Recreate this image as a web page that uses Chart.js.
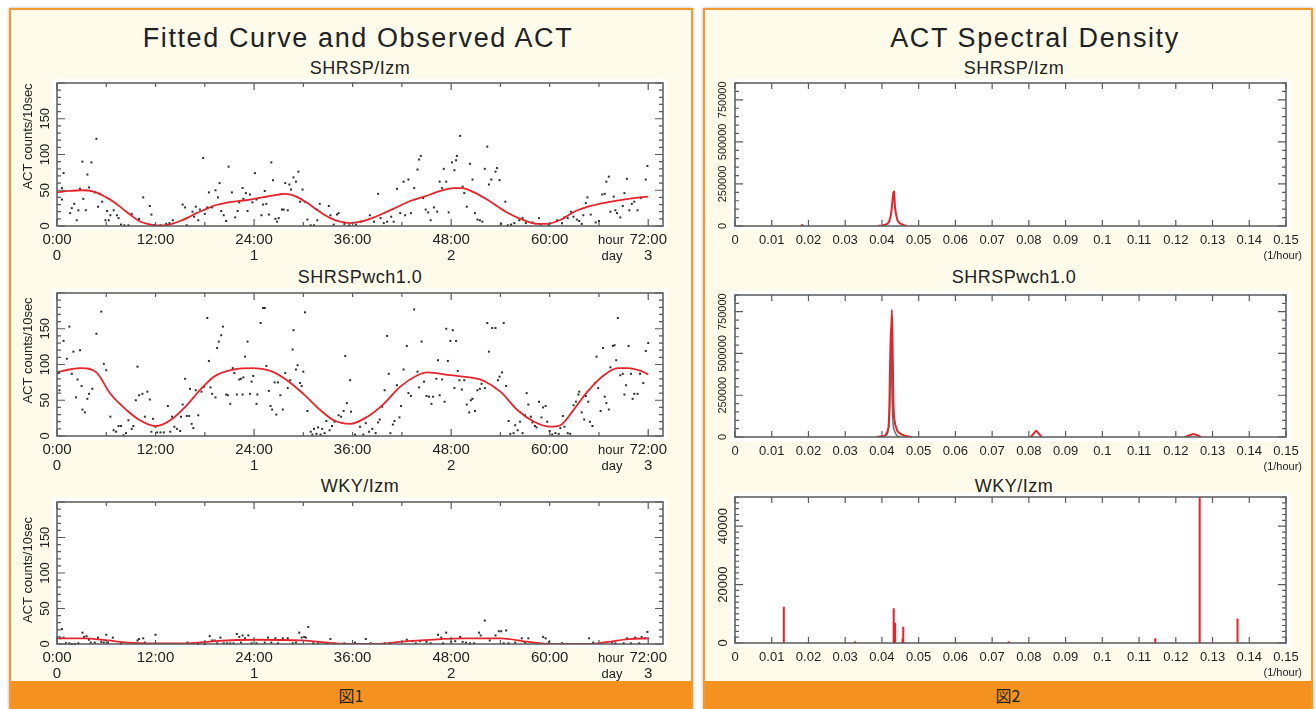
<!DOCTYPE html>
<html>
<head>
<meta charset="utf-8">
<script src="https://cdn.jsdelivr.net/npm/chart.js@4.4.1/dist/chart.umd.min.js"></script>
<style>
body{margin:0;width:1316px;height:709px;overflow:hidden;position:relative;background:#fff;font-family:'Liberation Sans',Arial,sans-serif;color:#222}
.panel{position:absolute;top:8px;height:703px;box-sizing:border-box;border:2px solid #f39a2c;background:#fffbea;box-shadow:0 0 3px rgba(0,0,0,.3)}
.foot{position:absolute;left:0;right:0;top:671px;height:30px;background:#f5921f;text-align:center;font:16px 'Noto Sans CJK JP',sans-serif;line-height:28px;color:#222}
.t{position:absolute;width:600px;text-align:center;white-space:nowrap}
.big{font-size:27px;letter-spacing:1.6px;line-height:30px}
.sub{font-size:18px;letter-spacing:0.5px;line-height:20px}
canvas{position:absolute}
</style>
</head>
<body>
<div class="panel" style="left:9px;width:684px"><div class="foot">図1</div></div>
<div class="panel" style="left:703px;width:610px"><div class="foot">図2</div></div>

<div class="t big" style="left:58px;top:23px">Fitted Curve and Observed ACT</div>
<div class="t sub" style="left:60px;top:58px">SHRSP/Izm</div>
<div class="t sub" style="left:60px;top:267px">SHRSPwch1.0</div>
<div class="t sub" style="left:60px;top:476px">WKY/Izm</div>
<div class="t big" style="left:735px;top:23px">ACT Spectral Density</div>
<div class="t sub" style="left:714px;top:58px">SHRSP/Izm</div>
<div class="t sub" style="left:714px;top:267px">SHRSPwch1.0</div>
<div class="t sub" style="left:714px;top:476px">WKY/Izm</div>

<canvas id="l1"></canvas>
<canvas id="l2"></canvas>
<canvas id="l3"></canvas>
<canvas id="r1"></canvas>
<canvas id="r2"></canvas>
<canvas id="r3"></canvas>

<script>
// axis labels
const hourTicks = [0, 12, 24, 36, 48, 60, 72];
const hourLabels = ['0:00', '12:00', '24:00', '36:00', '48:00', '60:00', '72:00'];
const dayTicks = [0, 24, 48, 72];
const dayLabels = ['0', '1', '2', '3'];
const countTicks = [0, 50, 100, 150];
const freqTicks = [0, 0.01, 0.02, 0.03, 0.04, 0.05, 0.06, 0.07, 0.08, 0.09, 0.1, 0.11, 0.12, 0.13, 0.14, 0.15];
const freqLabels = ['0', '0.01', '0.02', '0.03', '0.04', '0.05', '0.06', '0.07', '0.08', '0.09', '0.1', '0.11', '0.12', '0.13', '0.14', '0.15'];
const powerTicks = [0, 250000, 500000, 750000];
const wkyPowerTicks = [0, 20000, 40000];

// SHRSP/Izm observed ACT
const obs1Hours = [0.6,0.6,0.8,1.6,1.8,2.1,2.4,2.6,2.8,3.1, 3.2,3.5,3.7,3.9,4.2,4.6,4.8,5.0,5.2,5.5,
  5.9,6.1,6.3,6.5,6.9,7.3,7.5,7.8,8.2,8.7, 9.1,10.0,10.5,11.3,11.5,11.8,12.6,13.3,13.7,14.1,
  15.3,15.6,15.8,16.5,16.7,16.9,17.2,17.4,17.8,18.0, 18.3,18.5,18.9,19.3,19.6,19.8,20.0,20.3,20.6,20.9,
  21.3,21.7,22.0,22.2,22.6,22.7,23.0,23.2,23.5,23.8, 24.1,24.3,24.6,24.9,25.1,25.3,25.5,25.8,26.1,26.3,
  26.6,26.8,27.0,27.4,27.6,27.8,28.1,28.3,28.5,28.8, 29.1,29.4,29.6,29.9,30.2,30.5,30.9,31.3,31.6,31.7,
  32.0,33.1,33.3,33.7,34.1,34.3,35.0,35.6,36.4,37.0, 38.1,38.6,39.1,39.4,39.8,40.2,40.7,41.0,41.4,41.8,
  42.2,42.4,42.8,43.1,43.5,43.9,44.1,44.3,44.6,44.9, 45.2,45.5,45.9,46.3,46.6,46.9,47.1,47.4,47.7,48.1,
  48.4,48.6,48.7,49.1,49.4,49.6,49.9,50.3,50.6,50.9, 51.2,51.5,51.8,52.1,52.4,52.6,52.9,53.4,53.6,53.9,
  54.1,54.6,54.9,55.3,55.7,56.3,56.7,57.1,57.9,58.7, 58.9,59.9,60.9,61.5,61.8,62.2,62.6,62.9,63.3,63.6,
  63.9,64.1,64.4,64.6,65.0,65.6,66.0,66.4,66.7,66.9, 67.2,67.4,67.8,68.0,68.2,68.6,68.9,69.1,69.4,69.7,
  70.0,70.3,70.7,71.1,71.7,71.9];
const obs1Counts = [53,37,74,18,25,31,8,22,52,90, 38,22,72,54,89,47,122,27,45,34,
  8,21,8,15,22,15,11,2,1,1, 17,10,40,28,16,1,1,3,4,8,
  30,26,1,20,13,27,8,23,95,17, 26,47,26,50,40,60,21,15,7,83,
  47,12,21,33,53,38,46,21,44,33, 74,37,39,15,30,49,31,16,89,64,
  10,6,11,23,23,60,22,58,51,68, 62,76,34,51,34,9,1,1,23,8,
  31,28,15,2,16,18,3,1,2,6, 15,6,45,11,4,6,13,6,52,18,
  62,15,65,18,53,79,93,98,39,23, 19,8,26,20,62,53,80,62,19,89,
  78,92,98,126,55,46,27,87,65,18, 9,8,6,80,111,58,65,76,81,64,
  3,34,1,2,4,8,11,4,5,11, 2,1,8,4,12,11,20,13,9,7,
  3,15,32,40,16,5,7,44,45,62, 69,20,41,22,18,12,28,46,66,22,
  31,34,22,39,65,84];
const fit1Hours = [0,1.5,3,4.5,6,7,8,9,10,11,12,13,14,15,16,17,18,19,20,21.5,23,24,25,26,27,27.5,28.5,29.5,30.5,31.5,
  32.5,33.5,34.5,35.7,37,38.6,40,41.5,43,44.7,46.7,48.3,49.3,50.8,52.8,54.8,56.9,58.5,59.7,61.4,63,65,67,69,71,72];
const fit1Counts = [47,49,50,48,40,33,24,15,7,3,1,1,3,7,12,18,23,28,31,34,36,38,40,42,44,45,44,39,32,24,
  16,10,6,4,6,12,19,27,35,41,49,53,53,47,34,19,8,3,3,9,20,28,33,37,40,41];

// SHRSPwch1.0 observed ACT
const obs2Hours = [0.2,0.3,0.8,1.2,1.5,1.8,2.0,2.3,2.5,2.8, 3.0,3.1,3.4,3.7,3.9,4.3,4.8,5.4,5.7,6.0,
  6.5,6.9,7.2,7.5,7.8,8.1,8.4,8.7,9.1, 9.3,9.6,9.8,10.0,10.4,10.7,11.0,11.3,11.5,11.7,
  12.0,12.2,12.6,13.0,13.5,13.8,14.0,14.3,14.6,15.0, 15.1,15.3,15.6,15.8,16.1,16.2,16.4,16.6,16.9,17.2,
  17.6,17.9,18.3,18.5,18.7,18.9,19.3,19.5,19.7,20.0, 20.2,20.6,20.8,21.1,21.4,21.6,21.9,22.2,22.4,22.6,
  22.7,22.9,23.2,23.5,23.7,23.9,24.3,24.4,24.8,25.1, 25.3,25.5,25.8,26.0,26.2,26.5,26.7,26.9,27.2,27.5,
  27.8,28.1,28.4,28.7,28.8,29.1,29.3,29.6,29.8,30.0, 30.2,30.5,30.9,31.1,31.3,31.6,31.8,32.1,32.3,32.6,
  32.8,33.2,33.5,33.8,34.3,34.6,34.9,35.1,35.3,
  35.7,35.8,36.3,36.9,37.3,37.6,38.0,38.4,38.8,39.1, 39.3,39.6,39.9,40.2,40.4,40.6,40.9,41.1,41.4,41.7,
  41.9,42.2,42.6,42.8,43.1,43.5,43.9,44.1,44.4,44.7, 45.0,45.3,45.6,45.8,46.2,46.4,46.6,46.9,47.2,47.4,
  47.6,47.9,48.2,48.4,48.6,48.8,49.0,49.3,49.6,49.9, 50.2,50.4,50.6,50.9,51.2,51.5,51.7,52.1,52.4,52.6,
  53.0,53.4,53.7,53.9,54.2,54.4,54.7,55.0,55.2,55.6, 55.8,56.1,56.4,56.7,57.0,57.2,57.4,57.7,57.9,58.2,
  58.4,58.7,59.0,59.2,59.5,59.7,60.0,60.3,60.7,61.1, 61.3,61.6,61.8,62.2,62.5,62.9,63.2,63.5,63.6,63.9,
  64.2,64.4,64.7,64.9,65.2,65.5,65.7,65.9,66.2,66.5, 66.7,66.9,67.2,67.4,67.7,67.9,68.1,68.3,68.6,68.9,
  69.1,69.3,69.6,69.9,70.1,70.3,70.7,71.0,71.4,71.7,72.0];
const obs2Counts = [88,64,133,108,153,87,118,54,79,120, 70,37,33,52,59,66,143,174,101,92,
  27,8,6,14,14,1,4,22,10, 14,50,97,57,59,27,62,51,6,24,
  13,5,5,5,42,6,27,13,10,7, 27,44,80,28,28,66,17,11,64,29,
  62,69,165,105,68,59,54,123,132,141, 153,58,57,45,95,88,58,79,80,58,
  82,111,132,59,76,84,45,58,158,179, 179,98,63,42,37,75,30,75,57,37,
  88,67,78,121,148,93,99,74,70,90, 173,35,6,2,10,3,12,2,10,4,
  21,8,14,20,29,27,35,112,46,
  78,34,2,13,2,18,6,10,4,19, 23,41,64,140,87,4,16,21,71,26,
  42,93,126,60,56,177,90,68,132,76, 56,55,45,55,80,106,57,79,48,150,
  105,133,148,67,133,91,78,65,78,44, 33,50,52,35,64,66,73,67,158,118,
  151,151,78,83,89,158,70,21,3,4, 15,8,20,4,29,60,44,27,19,14,
  12,48,26,40,42,20,7,2,4,3, 11,28,13,4,3,43,48,58,62,33,
  23,56,48,20,14,74,111,67,35,123, 55,46,37,96,126,127,106,165,85,87,
  58,71,126,87,52,59,59,87,74,119,130];
const fit2Hours = [0,1.5,3,4.8,6.5,8.5,10.1,12,13.8,15.8,17.4,19.1,21.5,23.9,26,28,30,32.1,33.7,35.7,
  37.8,39.8,41.8,43.9,45.1,47.9,50.8,52,54,56.1,58.1,60.1,61.3,63,64.6,66.6,68.3,69.5,71.1,72];
const fit2Counts = [89,93,95,89,59,36,22,14,22,43,64,83,93,95,91,78,59,36,22,17,
  27,45,69,85,89,85,81,77,62,36,20,13,15,38,62,85,95,95,91,86];

// WKY/Izm observed ACT
const obs3Hours = [0.4,0.6,0.8,1.1,1.5,1.8,2.2,2.6,3.1,3.3, 3.6,3.9,4.1,4.6,5.0,5.4,5.7,6.0,6.2,6.8,
  7.8,9.8,10.0,10.5,10.7,12.0,15.9,17.2,18.0,18.6, 18.9,19.2,19.5,19.9,20.3,20.7,21.1,21.5,21.9,22.2,
  22.4,22.6,22.9,23.3,23.7,24.3,25.3,25.7,26.1,26.6, 26.9,27.5,28.1,28.7,29.1,29.5,29.8,30.1,30.3,30.6,
  31.2,31.8,32.8,33.3,33.8,35.0, 36.3,37.6,38.2,39.9,40.6,42.6,43.3,43.7,44.2,45.0,
  45.5,46.4,46.8,47.0,47.4,48.0,48.5,49.1,49.4,49.8, 50.3,50.8,51.4,51.6,52.1,52.7,53.4,53.8,54.1,54.4,
  54.7,55.0,55.8,56.6,57.0,57.4,59.2,59.5,59.9,61.5, 64.8,65.3,67.6,68.0,69.0,69.4,69.9,70.4,70.9,71.2,71.6,71.9];
const obs3Counts = [8,21,9,1,1,0,0,1,16,10, 11,6,2,2,9,3,2,13,2,9,
  1,5,7,8,2,13,2,0,0,11, 5,5,1,9,1,1,1,1,14,10,
  2,12,8,12,1,1,2,9,2,8, 1,8,8,1,2,16,9,10,9,24,
  1,1,1,7,1,1, 2,7,1,1,1,6,4,1,4,3,
  1,13,9,1,16,3,4,10,3,2, 1,1,16,12,33,5,12,18,18,1,
  19,1,2,8,2,8,10,8,3,1, 8,2,2,1,1,8,1,9,1,10,8,17];
const fit3Hours = [0,3.3,6.2,8.6,11.9,15.9,19.2,24.1,29.8,33.8,36,38.7,42.7,46.8,49.3,54,57.4,60.2,65.1,67.1,69.6,72];
const fit3Counts = [8,8,5,2,1,1,4,6,5,1,0,0,4,7,8,8,3,0,0,3,7,8];

// spectral density, SHRSP/Izm (null = gap)
const spec1Freq = [0.0180,0.0183,0.0186,0.03,0.0390,0.0400,0.0410,0.0416,0.0421,0.0425,0.0431,0.0433,0.0436,0.0442,0.0448,0.0455,0.0462,0.0468];
const spec1Power = [0,6000,0,null,0,3000,8000,16000,35000,75000,194000,205000,105000,36000,18000,10000,4000,0];

// spectral density, SHRSPwch1.0
const spec2Freq = [0.0386,0.0400,0.0410,0.0418,0.0422,0.0427,0.0430,0.0433,0.0442,0.0456,0.0468,0.0481,0.06,
  0.0805,0.0815,0.0820,0.0825,0.0835,0.1,0.1225,0.1240,0.1248,0.1256,0.1270];
const spec2Power = [0,4000,12000,60000,400000,762000,400000,120000,36000,12000,4000,0,null,
  0,25000,38000,25000,0,null,0,12000,18000,12000,0];
const spec2RawFreq = [0.0400,0.0415,0.0421,0.0424,0.0427,0.0431,0.0440,0.0450];
const spec2RawPower = [0,20000,150000,640000,300000,60000,10000,0];

// spectral density, WKY/Izm (single lines)
const spec3Freq = [0.0133,0.0327,0.0432,0.0436,0.0456,0.0458,0.0745,0.1144,0.1265,0.1368];
const spec3Power = [12400,600,11900,6900,1500,5600,600,1600,52000,8400];

const RED = '#e3242b';

function pts(xs, ys) {
  return xs.map((x, i) => ({x: x, y: ys[i]}));
}
function sticks(xs, ys) {
  return xs.flatMap((x, i) => [{x: x, y: 0}, {x: x, y: ys[i]}, {x: x, y: null}]);
}

const framePlugin = {
  id: 'frame',
  beforeDatasetsDraw(chart) {
    const a = chart.chartArea, c = chart.ctx;
    c.save();
    c.fillStyle = '#fff';
    c.fillRect(a.left - 5, a.top - 4, a.right - a.left + 10, a.bottom - a.top + 8);
    c.restore();
  },
  afterDatasetsDraw(chart, args, o) {
    const a = chart.chartArea, c = chart.ctx;
    const xs = chart.scales.x, ys = chart.scales.y;
    c.save();
    c.strokeStyle = '#5a5a5a';
    c.lineWidth = 1.5;
    c.strokeRect(a.left, a.top, a.right - a.left, a.bottom - a.top);
    c.lineWidth = 1.2;
    c.beginPath();
    for (let i = 0; ; i++) {
      const v = xs.min + i * o.xStep;
      if (v > xs.max + 1e-9) break;
      const px = xs.getPixelForValue(v);
      const len = i % o.xMajorEvery === 0 ? o.xMajorLen : o.xMinorLen;
      c.moveTo(px, a.top); c.lineTo(px, a.top + len);
      c.moveTo(px, a.bottom); c.lineTo(px, a.bottom - len);
    }
    for (let i = 0; ; i++) {
      const v = ys.min + i * o.yStep;
      if (v > ys.max + 1e-9) break;
      const py = ys.getPixelForValue(v);
      const len = i % o.yMajorEvery === 0 ? 8 : 4;
      c.moveTo(a.left, py); c.lineTo(a.left + len, py);
      c.moveTo(a.right, py); c.lineTo(a.right - len, py);
    }
    c.stroke();

    c.fillStyle = '#222';
    c.textAlign = 'center';
    c.textBaseline = 'middle';
    c.font = o.xFont;
    o.xTicks.forEach((v, i) => c.fillText(o.xLabels[i], xs.getPixelForValue(v), a.bottom + 14));
    if (o.x2Ticks) {
      o.x2Ticks.forEach((v, i) => c.fillText(o.x2Labels[i], xs.getPixelForValue(v), a.bottom + 30));
    }
    (o.extras || []).forEach(e => {
      c.font = e.font;
      c.textAlign = e.align;
      c.fillText(e.text, a.right + e.dx, a.bottom + e.dy);
    });
    c.textAlign = 'center';
    c.font = o.yFont;
    o.yTicks.forEach(v => {
      c.save();
      c.translate(a.left - 12, ys.getPixelForValue(v));
      c.rotate(-Math.PI / 2);
      c.fillText(String(v), 0, 0);
      c.restore();
    });
    if (o.yTitle) {
      c.save();
      c.translate(a.left - 29, (a.top + a.bottom) / 2 + o.yTitleDy);
      c.rotate(-Math.PI / 2);
      c.font = '13px "Liberation Sans", Arial, sans-serif';
      c.fillText(o.yTitle, 0, 0);
      c.restore();
    }
    c.restore();
  }
};

function makeChart(id, box, cx, cw, datasets, xMax, yMax, frame) {
  const cv = document.getElementById(id);
  const top = box.t - 22, h = box.b + 40 - top;
  cv.style.left = cx + 'px';
  cv.style.top = top + 'px';
  cv.width = cw;
  cv.height = h;
  return new Chart(cv, {
    type: 'scatter',
    data: {datasets: datasets},
    options: {
      responsive: false,
      animation: false,
      devicePixelRatio: 1,
      events: [],
      layout: {padding: {left: box.l - cx, right: cx + cw - box.r, top: 22, bottom: 40}},
      scales: {
        x: {type: 'linear', display: false, min: 0, max: xMax},
        y: {type: 'linear', display: false, min: 0, max: yMax}
      },
      plugins: {legend: {display: false}, tooltip: {enabled: false}, frame: frame}
    },
    plugins: [framePlugin]
  });
}

function actSets(oh, oc, fh, fc) {
  return [{
    type: 'line', data: pts(fh, fc), borderColor: RED, borderWidth: 1.8,
    pointRadius: 0, cubicInterpolationMode: 'monotone', fill: false
  }, {
    data: pts(oh, oc), backgroundColor: '#2a2a2a', borderWidth: 0,
    pointStyle: 'rect', pointRadius: 1.4, clip: 3
  }];
}

const actFrame = (dy) => ({
  xStep: 6, xMajorEvery: 4, xMajorLen: 7, xMinorLen: 4,
  yStep: 10, yMajorEvery: 5,
  xTicks: hourTicks, xLabels: hourLabels, x2Ticks: dayTicks, x2Labels: dayLabels,
  xFont: '15px "Liberation Sans", Arial, sans-serif',
  yTicks: countTicks, yFont: '13px "Liberation Sans", Arial, sans-serif',
  yTitle: 'ACT counts/10sec', yTitleDy: dy,
  extras: [
    {text: 'hour', dx: -52, dy: 14, align: 'center', font: '13px "Liberation Sans", Arial, sans-serif'},
    {text: 'day', dx: -51, dy: 30, align: 'center', font: '13px "Liberation Sans", Arial, sans-serif'}
  ]
});

const specFrame = (ticks, step, every, font) => ({
  xStep: 0.01, xMajorEvery: 1, xMajorLen: 6, xMinorLen: 6,
  yStep: step, yMajorEvery: every,
  xTicks: freqTicks, xLabels: freqLabels,
  xFont: '13px "Liberation Sans", Arial, sans-serif',
  yTicks: ticks, yFont: font,
  extras: [{text: '(1/hour)', dx: 16, dy: 30, align: 'right', font: '11px "Liberation Sans", Arial, sans-serif'}]
});

makeChart('l1', {l: 57, t: 83, r: 663, b: 226}, 12, 678,
  actSets(obs1Hours, obs1Counts, fit1Hours, fit1Counts), 73.8, 200, actFrame(-18));
makeChart('l2', {l: 57, t: 293, r: 663, b: 436}, 12, 678,
  actSets(obs2Hours, obs2Counts, fit2Hours, fit2Counts), 73.8, 200, actFrame(-14));
makeChart('l3', {l: 57, t: 502, r: 663, b: 644}, 12, 678,
  actSets(obs3Hours, obs3Counts, fit3Hours, fit3Counts), 73.8, 200, actFrame(-3));

makeChart('r1', {l: 735, t: 83, r: 1286, b: 226}, 706, 604, [{
  type: 'line', data: pts(spec1Freq, spec1Power), borderColor: RED, borderWidth: 2,
  pointRadius: 0, tension: 0.3, fill: false
}], 0.15, 850000, specFrame(powerTicks, 50000, 5, '11px "Liberation Sans", Arial, sans-serif'));

makeChart('r2', {l: 735, t: 295, r: 1286, b: 437}, 706, 604, [{
  type: 'line', data: pts(spec2Freq, spec2Power), borderColor: RED, borderWidth: 2,
  pointRadius: 0, tension: 0.3, fill: false
}, {
  type: 'line', data: pts(spec2RawFreq, spec2RawPower), borderColor: '#6b6b6b', borderWidth: 1.5,
  pointRadius: 0, tension: 0.2, fill: false
}], 0.15, 850000, specFrame(powerTicks, 50000, 5, '11px "Liberation Sans", Arial, sans-serif'));

makeChart('r3', {l: 735, t: 497, r: 1286, b: 643}, 706, 604, [{
  type: 'line', data: sticks(spec3Freq, spec3Power), borderColor: RED, borderWidth: 2,
  pointRadius: 0, tension: 0, fill: false
}], 0.15, 50000, specFrame(wkyPowerTicks, 2000, 10, '13px "Liberation Sans", Arial, sans-serif'));
</script>
</body>
</html>
